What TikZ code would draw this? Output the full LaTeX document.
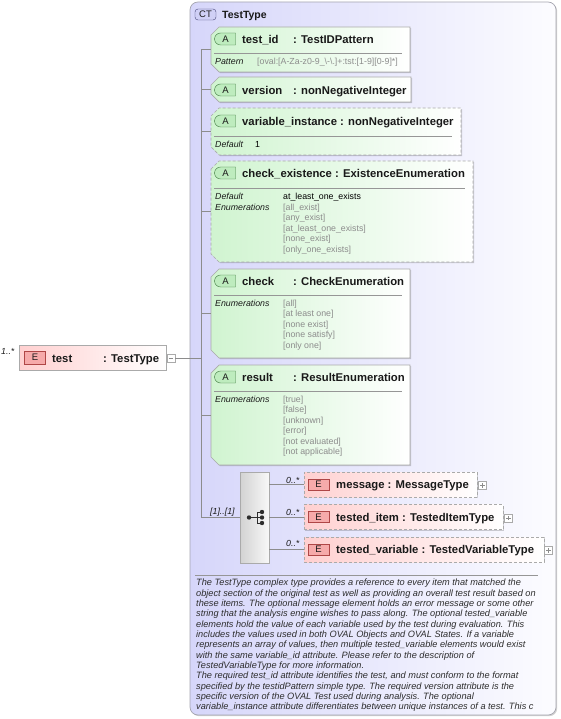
\documentclass[tikz,border=0pt]{standalone}
\usepackage{fontspec}
\setmainfont{Liberation Sans}
\usetikzlibrary{shapes.misc,shadows}
\definecolor{bordergray}{RGB}{170,170,170}
\definecolor{attrgreen}{RGB}{208,244,208}
\definecolor{elpink}{RGB}{255,208,208}
\definecolor{ctlav}{RGB}{214,214,250}
\definecolor{ctright}{RGB}{252,252,255}
\definecolor{ctborder}{RGB}{165,165,175}
\definecolor{valgray}{RGB}{140,140,140}
\definecolor{titletext}{RGB}{25,25,25}
\definecolor{desctext}{RGB}{45,45,45}
\definecolor{abadgefill}{RGB}{190,236,190}
\definecolor{abadgedraw}{RGB}{60,120,60}
\definecolor{ebadgefill}{RGB}{246,170,170}
\definecolor{ebadgedraw}{RGB}{175,70,70}
\definecolor{ctbadgefill}{RGB}{208,208,246}
\definecolor{ctbadgedraw}{RGB}{70,70,120}
\definecolor{sepgray}{RGB}{150,150,150}
\definecolor{linegray}{RGB}{140,140,140}
\definecolor{seqleft}{RGB}{210,210,210}
\definecolor{seqright}{RGB}{248,248,248}
\definecolor{icongray}{RGB}{45,45,45}
\newcommand\hdrfont{\fontsize{11.3}{13}\selectfont\bfseries}
\newcommand\smallfont{\fontsize{8.8}{10.5}\selectfont}
\newcommand\badgefont{\fontsize{9.5}{10}\selectfont}
\newcommand\descfont{\fontsize{9.2}{10.33}\selectfont\itshape}
\newcommand\hexbox[6]{%
  \node[boxanchor, minimum width=#4pt, minimum height=#5pt] (#1) at (#2,#3) {};
  \path[#6] ([yshift=-8pt]#1.north west) -- ([xshift=8pt]#1.north west) -- (#1.north east) -- (#1.south east) -- ([xshift=8pt]#1.south west) -- ([yshift=8pt]#1.south west) -- cycle;
}
\tikzset{
  boxanchor/.style={inner sep=0pt, outer sep=0pt, anchor=north west, draw=none},
  boxshadow/.style={drop shadow={shadow xshift=1.2pt, shadow yshift=-1.2pt, fill=black, opacity=0.18}},
  attrfill/.style={draw=bordergray, line width=0.7pt, left color=attrgreen, right color=white, boxshadow},
  attrdash/.style={attrfill, dash pattern=on 3pt off 2pt},
  elemfill/.style={draw=bordergray, line width=0.7pt, left color=elpink, right color=white, boxshadow},
  elemdash/.style={elemfill, dash pattern=on 3pt off 2pt},
  abadge/.style={rounded rectangle, rounded rectangle right arc=none, draw=abadgedraw, fill=abadgefill, minimum width=21pt, minimum height=12pt, inner sep=0pt, font=\badgefont, text=titletext},
  ebadge/.style={rectangle, draw=ebadgedraw, fill=ebadgefill, minimum width=21pt, minimum height=11pt, inner sep=0pt, font=\badgefont, text=titletext},
  hdrtext/.style={anchor=west, inner sep=0pt, font=\hdrfont, text=titletext, text height=8.1pt, text depth=0pt},
  lbl/.style={anchor=west, inner sep=0pt, font=\smallfont\itshape, text=titletext, text height=6.3pt, text depth=0pt},
  val/.style={anchor=west, inner sep=0pt, font=\smallfont, text=valgray, text height=6.3pt, text depth=0pt},
  dval/.style={anchor=west, inner sep=0pt, font=\smallfont, text=black, text height=6.3pt, text depth=0pt},
  sepline/.style={draw=sepgray, line width=0.6pt},
  conn/.style={draw=linegray, line width=0.6pt},
  pmbox/.style={rectangle, draw=bordergray, fill=white, minimum size=8pt, inner sep=0pt},
}
\begin{document}
\begin{tikzpicture}[x=1pt,y=-1pt]
\useasboundingbox (0,0) rectangle (561,719);
% container
\node[boxanchor, minimum width=366pt, minimum height=713pt, rounded corners=8pt, draw=ctborder, line width=0.7pt, left color=ctlav, right color=ctright, boxshadow] (ct) at (190,2) {};
\node[rectangle, rounded corners=3pt, draw=ctbadgedraw, fill=ctbadgefill, minimum width=21pt, minimum height=11pt, inner sep=0pt, font=\badgefont, text=titletext] (ctb) at (205.5,14.5) {CT};
\node[hdrtext, font=\fontsize{10.5}{12}\selectfont\bfseries] (cttitle) at (222,14) {TestType};

% vertical spine
\coordinate (vtop) at (201,49.5);
\coordinate (vbot) at (201,517.5);
\draw[conn] (vtop) -- (vbot);

% test element
\node[boxanchor, minimum width=147pt, minimum height=25pt, draw=bordergray, line width=0.7pt, left color=elpink, right color=white, boxshadow] (test) at (19,345) {};
\node[ebadge, minimum height=13pt] (testb) at (35,357.5) {E};
\node[hdrtext] (testn) at (52,358) {test};
\node[hdrtext] (testt) at (103,358) {: TestType};
\node[anchor=west, inner sep=0pt, font=\smallfont\itshape, text=titletext] (testm) at (1,351) {1..*};
\node[pmbox] (mb) at (171,358.5) {};
\draw[line width=0.6pt, draw=linegray] ([xshift=2pt]mb.west) -- ([xshift=-2pt]mb.east);
\draw[conn] (mb.east) -- (mb.east -| vtop);

% attributes
\hexbox{tid}{211}{27}{199}{45}{attrfill}
\draw[conn] (tid.west -| vtop) -- (tid.west);
\node[abadge] (tidb) at (225.5,39) {A};
\node[hdrtext] (tidn) at (242,39) {test\_id};
\node[hdrtext] (tidt) at (293,39) {: TestIDPattern};
\draw[sepline] (214,53) -- (402,53);
\node[lbl] (tidl) at (215,61) {Pattern};
\node[val] (tidv) at (257,61) {[oval:[A-Za-z0-9\_\textbackslash-\textbackslash.]+:tst:[1-9][0-9]*]};

\hexbox{ver}{211}{77}{200}{25}{attrfill}
\draw[conn] (ver.west -| vtop) -- (ver.west);
\node[abadge] (verb) at (225.5,90) {A};
\node[hdrtext] (vern) at (242,90) {version};
\node[hdrtext] (vert) at (293,90) {: nonNegativeInteger};

\hexbox{vin}{211}{108}{250}{47}{attrdash}
\draw[conn] (vin.west -| vtop) -- (vin.west);
\node[abadge] (vinb) at (225.5,121) {A};
\node[hdrtext] (vinn) at (242,121) {variable\_instance : nonNegativeInteger};
\draw[sepline] (214,136) -- (452,136);
\node[lbl] (vinl) at (215,144) {Default};
\node[dval] (vinv) at (255,144) {1};

\hexbox{cex}{211}{161}{262}{101}{attrdash}
\draw[conn] (cex.west -| vtop) -- (cex.west);
\node[abadge] (cexb) at (225.5,173) {A};
\node[hdrtext] (cexn) at (242,173) {check\_existence : ExistenceEnumeration};
\draw[sepline] (214,188) -- (465,188);
\node[lbl] (cexl1) at (215,196) {Default};
\node[lbl] (cexl2) at (215,207) {Enumerations};
\node[dval] (cexd) at (283,196) {at\_least\_one\_exists};
\node[val] (cexv1) at (283,207) {[all\_exist]};
\node[val] (cexv2) at (283,217.5) {[any\_exist]};
\node[val] (cexv3) at (283,228) {[at\_least\_one\_exists]};
\node[val] (cexv4) at (283,238.5) {[none\_exist]};
\node[val] (cexv5) at (283,249) {[only\_one\_exists]};

\hexbox{chk}{211}{269}{199}{89}{attrfill}
\draw[conn] (chk.west -| vtop) -- (chk.west);
\node[abadge] (chkb) at (225.5,281) {A};
\node[hdrtext] (chkn) at (242,281) {check};
\node[hdrtext] (chkt) at (293,281) {: CheckEnumeration};
\draw[sepline] (214,295) -- (402,295);
\node[lbl] (chkl) at (215,303) {Enumerations};
\node[val] (chkv1) at (283,303) {[all]};
\node[val] (chkv2) at (283,313.5) {[at least one]};
\node[val] (chkv3) at (283,324) {[none exist]};
\node[val] (chkv4) at (283,334.5) {[none satisfy]};
\node[val] (chkv5) at (283,345) {[only one]};

\hexbox{res}{211}{365}{199}{100}{attrfill}
\draw[conn] (res.west -| vtop) -- (res.west);
\node[abadge] (resb) at (225.5,377) {A};
\node[hdrtext] (resn) at (242,377) {result};
\node[hdrtext] (rest) at (293,377) {: ResultEnumeration};
\draw[sepline] (214,391) -- (402,391);
\node[lbl] (resl) at (215,399) {Enumerations};
\node[val] (resv1) at (283,399) {[true]};
\node[val] (resv2) at (283,409.5) {[false]};
\node[val] (resv3) at (283,420) {[unknown]};
\node[val] (resv4) at (283,430.5) {[error]};
\node[val] (resv5) at (283,441) {[not evaluated]};
\node[val] (resv6) at (283,451.5) {[not applicable]};

% sequence compositor
\node[boxanchor, minimum width=29pt, minimum height=91pt, draw=bordergray, line width=0.7pt, left color=seqleft, right color=seqright, boxshadow] (seq) at (240,472) {};
\draw[conn] (vbot) -- (seq.west);
\node[anchor=west, inner sep=0pt, font=\smallfont\itshape, text=titletext] (seqm) at (210,512) {[1]..[1]};
\fill[icongray] (249,517.5) circle (2.2pt);
\draw[icongray, line width=0.8pt] (249,517.5) -- (257,517.5) (257,512) -- (257,523)
  (257,512) -- (262,512) (257,517.5) -- (262,517.5) (257,523) -- (262,523);
\fill[icongray] (262,512) circle (2.2pt) (262,517.5) circle (2.2pt) (262,523) circle (2.2pt);

% child elements
\node[boxanchor, minimum width=173pt, minimum height=25pt, elemdash] (msg) at (304,472) {};
\node[boxanchor, minimum width=199pt, minimum height=25pt, elemdash] (itm) at (304,504.5) {};
\node[boxanchor, minimum width=240pt, minimum height=25pt, elemdash] (var) at (304,537) {};
\draw[conn] (msg.west -| seq.east) -- (msg.west);
\draw[conn] (itm.west -| seq.east) -- (itm.west);
\draw[conn] (var.west -| seq.east) -- (var.west);
\node[anchor=west, inner sep=0pt, font=\smallfont\itshape, text=titletext] (msgm) at (286,480) {0..*};
\node[anchor=west, inner sep=0pt, font=\smallfont\itshape, text=titletext] (itmm) at (286,512) {0..*};
\node[anchor=west, inner sep=0pt, font=\smallfont\itshape, text=titletext] (varm) at (286,543.5) {0..*};
\node[ebadge] (msgb) at (318.5,484.5) {E};
\node[ebadge] (itmb) at (318.5,517) {E};
\node[ebadge] (varb) at (318.5,549.5) {E};
\node[hdrtext] (msgn) at (336,484.5) {message : MessageType};
\node[hdrtext] (itmn) at (336,517) {tested\_item : TestedItemType};
\node[hdrtext] (varn) at (336,549.5) {tested\_variable : TestedVariableType};
\node[pmbox] (pm1) at (482.5,485.5) {};
\node[pmbox] (pm2) at (508.5,518) {};
\node[pmbox] (pm3) at (548.5,550.5) {};
\foreach \p in {pm1,pm2,pm3}{
  \draw[line width=0.6pt, draw=linegray] ([xshift=2pt]\p.west) -- ([xshift=-2pt]\p.east) ([yshift=-2pt]\p.north) -- ([yshift=2pt]\p.south);
}

% description
\draw[sepline] (195,575) -- (538,575);
\node[anchor=north west, inner sep=0pt, align=left, font=\descfont, text=desctext] (desc) at (196,579) {The TestType complex type provides a reference to every item that matched the\\
object section of the original test as well as providing an overall test result based on\\
these items. The optional message element holds an error message or some other\\
string that the analysis engine wishes to pass along. The optional tested\_variable\\
elements hold the value of each variable used by the test during evaluation. This\\
includes the values used in both OVAL Objects and OVAL States. If a variable\\
represents an array of values, then multiple tested\_variable elements would exist\\
with the same variable\_id attribute. Please refer to the description of\\
TestedVariableType for more information.\\
The required test\_id attribute identifies the test, and must conform to the format\\
specified by the testidPattern simple type. The required version attribute is the\\
specific version of the OVAL Test used during analysis. The optional\\
variable\_instance attribute differentiates between unique instances of a test. This c};
\end{tikzpicture}
\end{document}
